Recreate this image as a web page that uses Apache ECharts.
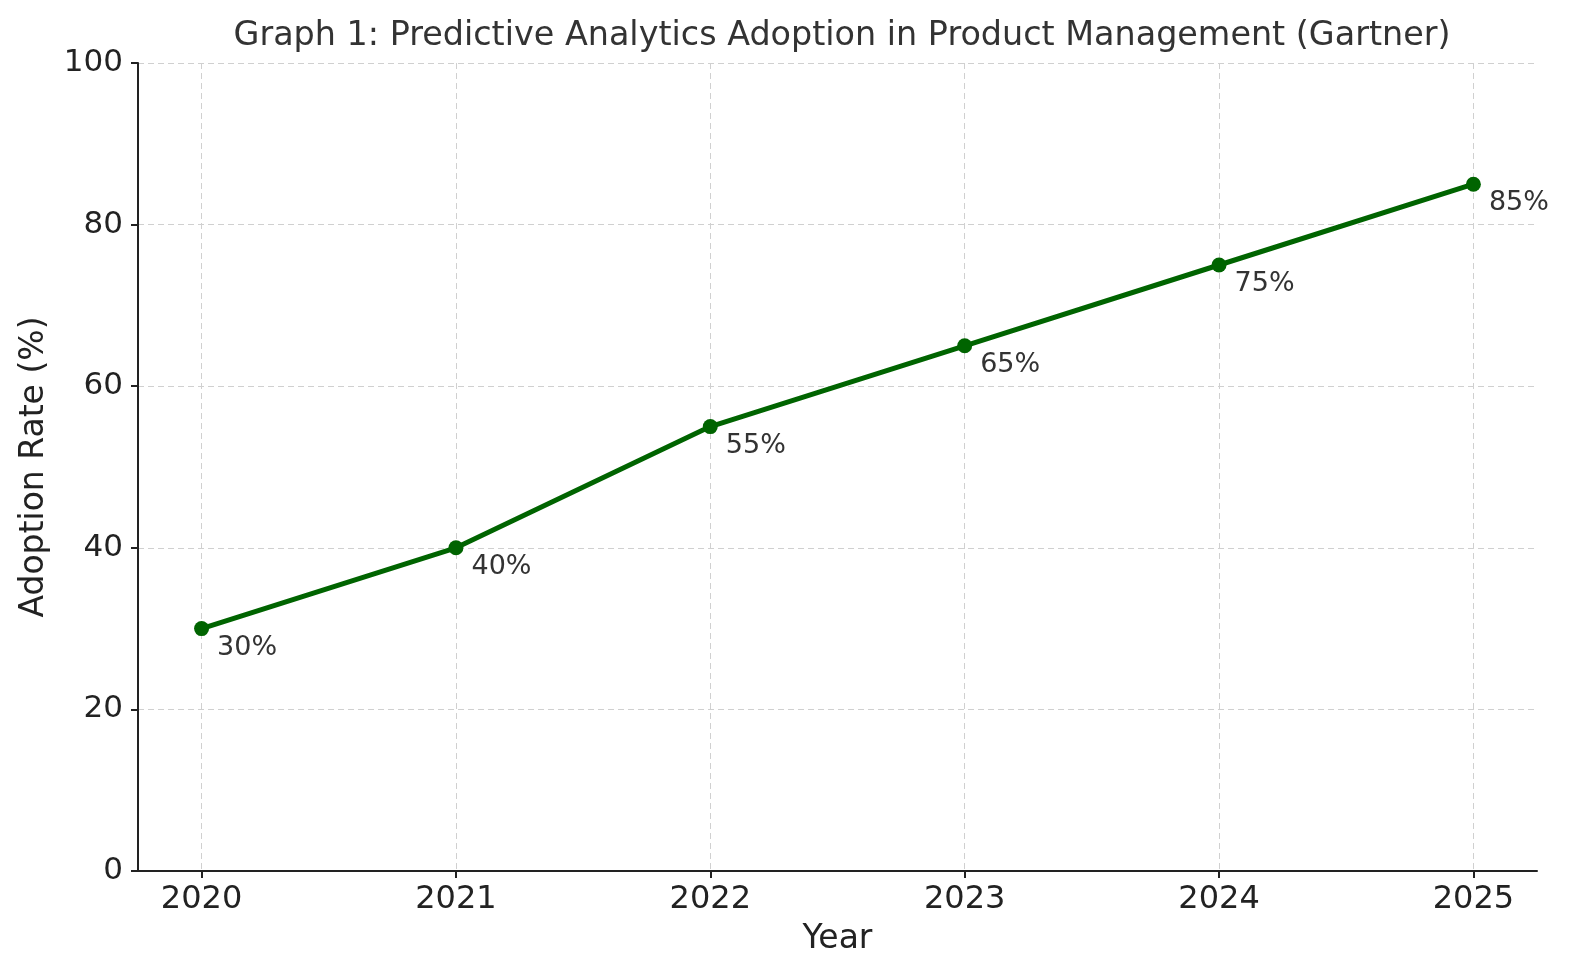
<!DOCTYPE html>
<html>
<head>
<meta charset="utf-8">
<script src="https://cdn.jsdelivr.net/npm/echarts@6/dist/echarts.min.js"></script>
<style>html,body{margin:0;padding:0;background:#fff;}#c{width:1572px;height:980px;}</style>
</head>
<body>
<div id="c"></div>
<script>
const years = [2020, 2021, 2022, 2023, 2024, 2025];
const adoption = [30, 40, 55, 65, 75, 85];
const yTicks = [0, 20, 40, 60, 80, 100];
const titleText = 'Graph 1: Predictive Analytics Adoption in Product Management (Gartner)';

const FONT = 'DejaVu Sans';
const chart = echarts.init(document.getElementById('c'), null, {renderer: 'canvas'});
chart.setOption({
  backgroundColor: '#fff',
  animation: false,
  textStyle: {fontFamily: FONT},
  title: {
    text: titleText,
    left: 837,
    textAlign: 'center',
    top: 15,
    textStyle: {fontFamily: FONT, fontSize: 33.4, fontWeight: 'normal', color: '#333'}
  },
  grid: {left: 138, right: 35, top: 63, bottom: 109, containLabel: false},
  xAxis: {
    type: 'value',
    min: 2019.75,
    max: 2025.25,
    name: 'Year',
    nameLocation: 'middle',
    nameGap: 52,
    nameTextStyle: {fontFamily: FONT, fontSize: 33, color: '#222', verticalAlign: 'top'},
    axisLine: {show: true, onZero: false, lineStyle: {color: '#222', width: 2}},
    axisTick: {show: true, inside: false, length: 7, customValues: years, lineStyle: {color: '#222', width: 2}},
    axisLabel: {customValues: years, fontSize: 32, color: '#222', margin: 13, fontFamily: FONT,
      formatter: v => String(v)},
    splitLine: {show: true, lineStyle: {type: [6, 4], color: '#d0d0d0', width: 1}}
  },
  yAxis: {
    type: 'value',
    min: 0,
    max: 100,
    interval: 20,
    name: 'Adoption Rate (%)',
    nameLocation: 'middle',
    nameGap: 87,
    nameRotate: 90,
    nameTextStyle: {fontFamily: FONT, fontSize: 33, color: '#222'},
    axisLine: {show: true, lineStyle: {color: '#222', width: 2}},
    axisTick: {show: true, inside: false, length: 7, lineStyle: {color: '#222', width: 2}},
    axisLabel: {fontSize: 31, color: '#222', margin: 15, fontFamily: FONT},
    splitLine: {show: true, lineStyle: {type: [6, 4], color: '#d0d0d0', width: 1}}
  },
  series: [{
    type: 'line',
    data: years.map((y, i) => [y, adoption[i]]),
    symbol: 'circle',
    symbolSize: 15,
    lineStyle: {color: '#006400', width: 5},
    itemStyle: {color: '#006400'},
    label: {
      show: true,
      position: 'right',
      distance: 0,
      offset: [8, 19],
      align: 'left',
      verticalAlign: 'middle',
      fontFamily: FONT,
      fontSize: 27,
      color: '#333',
      formatter: p => p.value[1] + '%'
    },
    z: 5
  }]
});
</script>
</body>
</html>
